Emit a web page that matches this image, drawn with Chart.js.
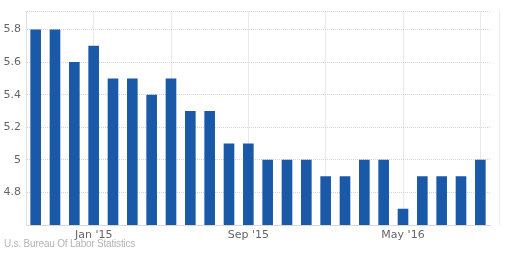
<!DOCTYPE html>
<html>
<head>
<meta charset="utf-8">
<script src="https://cdn.jsdelivr.net/npm/chart.js@4/dist/chart.umd.min.js"></script>
<style>
  html, body { margin: 0; padding: 0; background: #fff; }
  #wrap { position: relative; width: 505px; height: 257px; }
  #credit {
    position: absolute; left: 4px; top: 238px; letter-spacing: -0.2px;
    font: 10px "Liberation Sans", sans-serif; color: #b4b4b4;
  }
  #edge {
    position: absolute; left: 499px; top: 10px; width: 0; height: 215px;
    border-left: 1px solid #ececec;
  }
</style>
</head>
<body>
<div id="wrap">
  <canvas id="rateChart" width="505" height="257"></canvas>
  <div id="edge"></div>
  <div id="credit">U.s. Bureau Of Labor Statistics</div>
</div>
<script>
const months = ["Oct '14","Nov '14","Dec '14","Jan '15","Feb '15","Mar '15","Apr '15","May '15",
  "Jun '15","Jul '15","Aug '15","Sep '15","Oct '15","Nov '15","Dec '15","Jan '16",
  "Feb '16","Mar '16","Apr '16","May '16","Jun '16","Jul '16","Aug '16","Sep '16"];
const rates = [5.8, 5.8, 5.6, 5.7, 5.5, 5.5, 5.4, 5.5, 5.3, 5.3, 5.1, 5.1,
  5.0, 5.0, 5.0, 4.9, 4.9, 5.0, 5.0, 4.7, 4.9, 4.9, 4.9, 5.0];
const yTicks = [4.8, 5.0, 5.2, 5.4, 5.6, 5.8];
const shownLabels = ["Jan '15", "Sep '15", "May '16"];
const gridMonths = ["Jan '15", "May '15", "Sep '15", "Jan '16", "May '16", "Sep '16"];

const yMin = 4.6, yMax = 5.91;
const gridGray = '#d4d4d4';

const ctx = document.getElementById('rateChart').getContext('2d');

new Chart(ctx, {
  type: 'bar',
  data: {
    labels: months,
    datasets: [{
      data: rates,
      backgroundColor: '#1a58a8',
      barPercentage: 0.55,
      categoryPercentage: 1
    }]
  },
  options: {
    responsive: false,
    animation: false,
    layout: { padding: { top: 9, right: 15, bottom: 0, left: 0 } },
    plugins: { legend: { display: false }, tooltip: { enabled: false } },
    scales: {
      x: {
        offset: true,
        afterFit(s) { s.height = 32; },
        border: { display: true, color: '#d8d8d8', dash: [1, 1] },
        grid: {
          offset: false,
          drawTicks: false,
          color: c => gridMonths.includes(months[c.index]) ? gridGray : 'rgba(0,0,0,0)'
        },
        ticks: {
          autoSkip: false,
          maxRotation: 0,
          padding: 4,
          color: '#666',
          font: { family: 'DejaVu Sans', size: 11 },
          callback: (v, i) => shownLabels.includes(months[i]) ? months[i] : ''
        }
      },
      y: {
        min: yMin,
        max: yMax,
        afterFit(s) { s.width = 26; },
        afterBuildTicks(s) {
          s.ticks = [yMin, ...yTicks, yMax].map(v => ({ value: v }));
        },
        border: { display: true, color: '#e0e0e0', dash: [1, 1] },
        grid: {
          drawTicks: false,
          color: c => c.tick && c.tick.value === yMin ? 'rgba(0,0,0,0)' : gridGray
        },
        ticks: {
          padding: 5,
          color: '#666',
          font: { family: 'DejaVu Sans', size: 11 },
          callback: v => yTicks.includes(Math.round(v * 10) / 10) && v !== yMax ? String(Math.round(v * 10) / 10) : ''
        }
      }
    }
  }
});
</script>
</body>
</html>
